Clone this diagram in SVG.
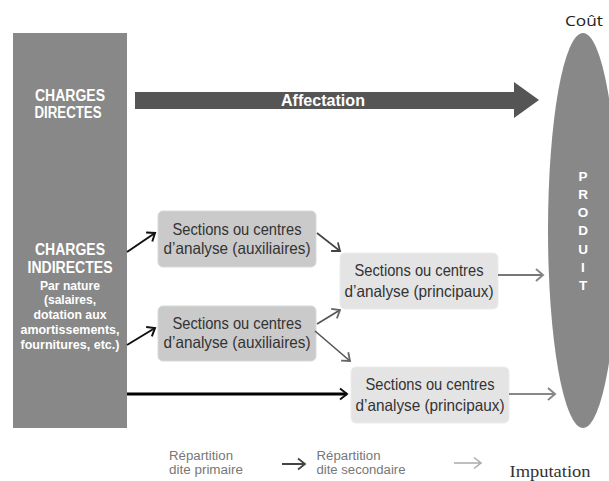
<svg xmlns="http://www.w3.org/2000/svg" width="609" height="481" viewBox="0 0 609 481">
<style>
  .hd{font-family:"Liberation Sans",Arial,sans-serif;font-weight:bold;fill:#fff;text-anchor:middle}
  .bx{font-family:"Liberation Sans",Arial,sans-serif;font-size:16.5px;fill:#333;text-anchor:middle}
  .lg{font-family:"Liberation Sans",Arial,sans-serif;font-size:12px;fill:#777}
  .aux{fill:#cacaca;stroke:#d8d8d8;stroke-width:1}
  .pri{fill:#e4e4e4;stroke:#ececec;stroke-width:1}
  .c{fill:none}
</style>
<defs>
  <marker id="mBlk" markerWidth="12" markerHeight="14" refX="10" refY="7" orient="auto" markerUnits="userSpaceOnUse"><path d="M3,1.5 L10,7 L3,12.5" fill="none" stroke="#111" stroke-width="2"/></marker>
  <marker id="mDk" markerWidth="12" markerHeight="14" refX="10" refY="7" orient="auto" markerUnits="userSpaceOnUse"><path d="M3,1.5 L10,7 L3,12.5" fill="none" stroke="#444" stroke-width="1.8"/></marker>
  <marker id="mMd" markerWidth="12" markerHeight="14" refX="10" refY="7" orient="auto" markerUnits="userSpaceOnUse"><path d="M3,1.5 L10,7 L3,12.5" fill="none" stroke="#666" stroke-width="1.8"/></marker>
  <marker id="mGy" markerWidth="12" markerHeight="14" refX="10" refY="7" orient="auto" markerUnits="userSpaceOnUse"><path d="M3,1 L10,7 L3,13" fill="none" stroke="#888" stroke-width="2"/></marker>
  <marker id="mLt" markerWidth="12" markerHeight="14" refX="10" refY="7" orient="auto" markerUnits="userSpaceOnUse"><path d="M3,1.5 L10,7 L3,12.5" fill="none" stroke="#aaa" stroke-width="1.5"/></marker>
</defs>
<rect width="609" height="481" fill="#fff"/>

<g id="charges">
  <rect x="13" y="33" width="114" height="395" fill="#888"/>
  <text class="hd" x="70" y="101" font-size="16" textLength="70" lengthAdjust="spacingAndGlyphs">CHARGES</text>
  <text class="hd" x="68" y="118" font-size="16" textLength="67" lengthAdjust="spacingAndGlyphs">DIRECTES</text>
  <text class="hd" x="70" y="255" font-size="16" textLength="70" lengthAdjust="spacingAndGlyphs">CHARGES</text>
  <text class="hd" x="70" y="273" font-size="16" textLength="85" lengthAdjust="spacingAndGlyphs">INDIRECTES</text>
  <text class="hd" x="70" y="290" font-size="13" textLength="60" lengthAdjust="spacingAndGlyphs">Par nature</text>
  <text class="hd" x="70" y="304" font-size="13" textLength="52" lengthAdjust="spacingAndGlyphs">(salaires,</text>
  <text class="hd" x="70" y="319" font-size="13" textLength="73" lengthAdjust="spacingAndGlyphs">dotation aux</text>
  <text class="hd" x="70" y="334" font-size="13" textLength="99" lengthAdjust="spacingAndGlyphs">amortissements,</text>
  <text class="hd" x="70" y="349" font-size="13" textLength="99" lengthAdjust="spacingAndGlyphs">fournitures, etc.)</text>
</g>

<g id="affectation">
  <polygon points="135,92 514,92 514,82 539,100 514,118 514,109 135,109" fill="#555"/>
  <text class="hd" x="323" y="106" font-size="16" textLength="84" lengthAdjust="spacingAndGlyphs">Affectation</text>
</g>

<g id="produit">
  <text x="565" y="26" font-family="'Open Sans','Liberation Sans',sans-serif" font-size="14" fill="#222" textLength="38" lengthAdjust="spacingAndGlyphs">Coût</text>
  <ellipse cx="583" cy="230.5" rx="35" ry="197.5" fill="#888"/>
  <g class="hd" font-size="13.5">
    <text x="583" y="181">P</text>
    <text x="583" y="199">R</text>
    <text x="583" y="217">O</text>
    <text x="583" y="235">D</text>
    <text x="583" y="254">U</text>
    <text x="583" y="272">I</text>
    <text x="583" y="290">T</text>
  </g>
</g>

<g id="aux1">
  <rect class="aux" x="158" y="211" width="158" height="56" rx="5"/>
  <text class="bx" x="237" y="235" textLength="129" lengthAdjust="spacingAndGlyphs">Sections ou centres</text>
  <text class="bx" x="237" y="254" textLength="147" lengthAdjust="spacingAndGlyphs">d’analyse (auxiliaires)</text>
</g>
<g id="aux2">
  <rect class="aux" x="158" y="306" width="158" height="55" rx="5"/>
  <text class="bx" x="237" y="329" textLength="129" lengthAdjust="spacingAndGlyphs">Sections ou centres</text>
  <text class="bx" x="237" y="348" textLength="147" lengthAdjust="spacingAndGlyphs">d’analyse (auxiliaires)</text>
</g>
<g id="princ1">
  <rect class="pri" x="340" y="253" width="158" height="56" rx="5"/>
  <text class="bx" x="419" y="276" textLength="129" lengthAdjust="spacingAndGlyphs">Sections ou centres</text>
  <text class="bx" x="419" y="297" textLength="149" lengthAdjust="spacingAndGlyphs">d’analyse (principaux)</text>
</g>
<g id="princ2">
  <rect class="pri" x="351" y="367" width="158" height="56" rx="5"/>
  <text class="bx" x="430" y="390" textLength="129" lengthAdjust="spacingAndGlyphs">Sections ou centres</text>
  <text class="bx" x="430" y="411" textLength="149" lengthAdjust="spacingAndGlyphs">d’analyse (principaux)</text>
</g>

<g id="connectors" class="c">
  <line x1="127" y1="252" x2="155" y2="233" stroke="#111" stroke-width="2" marker-end="url(#mBlk)"/>
  <line x1="127" y1="345" x2="155" y2="328" stroke="#111" stroke-width="2" marker-end="url(#mBlk)"/>
  <line x1="127" y1="394" x2="347" y2="394" stroke="#000" stroke-width="3" marker-end="url(#mBlk)"/>
  <line x1="317" y1="233" x2="340" y2="251" stroke="#444" stroke-width="1.6" marker-end="url(#mDk)"/>
  <line x1="317" y1="324" x2="340" y2="310" stroke="#555" stroke-width="1.6" marker-end="url(#mMd)"/>
  <line x1="315" y1="331" x2="350" y2="361" stroke="#555" stroke-width="1.6" marker-end="url(#mMd)"/>
  <line x1="498" y1="275" x2="543" y2="275" stroke="#777" stroke-width="2" marker-end="url(#mGy)"/>
  <line x1="509" y1="394" x2="555" y2="394" stroke="#888" stroke-width="2" marker-end="url(#mGy)"/>
</g>

<g id="legend">
  <text class="lg" x="169" y="460" textLength="64" lengthAdjust="spacingAndGlyphs">Répartition</text>
  <text class="lg" x="169" y="474" textLength="74" lengthAdjust="spacingAndGlyphs">dite primaire</text>
  <line x1="282" y1="464" x2="305" y2="464" stroke="#444" stroke-width="2" marker-end="url(#mDk)"/>
  <text class="lg" x="316.5" y="460" textLength="64" lengthAdjust="spacingAndGlyphs">Répartition</text>
  <text class="lg" x="316.5" y="474" textLength="89" lengthAdjust="spacingAndGlyphs">dite secondaire</text>
  <line x1="454" y1="463" x2="481" y2="463" stroke="#aaa" stroke-width="1.5" marker-end="url(#mLt)"/>
  <text x="509.5" y="477" font-family="'Liberation Serif','Times New Roman',serif" font-size="16" fill="#333" textLength="81" lengthAdjust="spacingAndGlyphs">Imputation</text>
</g>
</svg>
